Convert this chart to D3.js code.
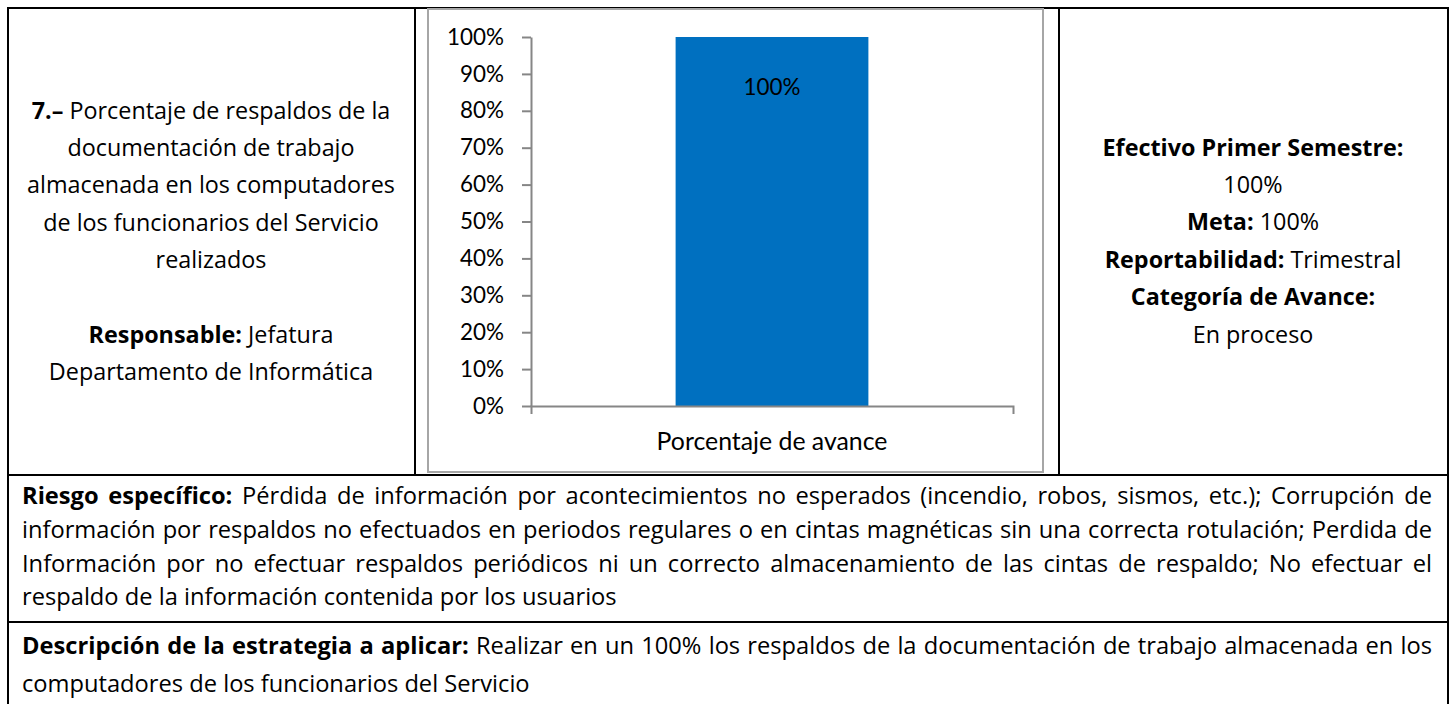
<!DOCTYPE html>
<html>
<head>
<meta charset="utf-8">
<script src="https://cdn.jsdelivr.net/npm/d3@7"></script>
<style>
    body { margin: 0; background: #fff; }
    svg { display: block; }
</style>
</head>
<body>
<div id="chart"></div>
<script>
// Chart data
const CATEGORIES = ["Porcentaje de avance"];
const VALUES = [1.0];
const Y_TICKS = [0, 0.1, 0.2, 0.3, 0.4, 0.5, 0.6, 0.7, 0.8, 0.9, 1.0];

// Cell texts, each line is a list of [text, bold]
const LEFT_LINES = [
    [["7.–", true], [" Porcentaje de respaldos de la", false]],
    [["documentación de trabajo", false]],
    [["almacenada en los computadores", false]],
    [["de los funcionarios del Servicio", false]],
    [["realizados", false]],
    null,
    [["Responsable:", true], [" Jefatura", false]],
    [["Departamento de Informática", false]]
];
const RIGHT_LINES = [
    [["Efectivo Primer Semestre:", true]],
    [["100%", false]],
    [["Meta:", true], [" 100%", false]],
    [["Reportabilidad:", true], [" Trimestral", false]],
    [["Categoría de Avance:", true]],
    [["En proceso", false]]
];
const RISK_LINES = [
    [["Riesgo específico:", true], [" Pérdida de información por acontecimientos no esperados (incendio, robos, sismos, etc.); Corrupción de", false]],
    [["información por respaldos no efectuados en periodos regulares o en cintas magnéticas sin una correcta rotulación; Perdida de", false]],
    [["Información por no efectuar respaldos periódicos ni un correcto almacenamiento de las cintas de respaldo; No efectuar el", false]],
    [["respaldo de la información contenida por los usuarios", false]]
];
const STRATEGY_LINES = [
    [["Descripción de la estrategia a aplicar:", true], [" Realizar en un 100% los respaldos de la documentación de trabajo almacenada en los", false]],
    [["computadores de los funcionarios del Servicio", false]]
];

const width = 1455;
const height = 704;
const TABLE_FONT = '"Open Sans", Lato, sans-serif';
const CHART_FONT = 'Lato, "Open Sans", sans-serif';

let svg = d3.select("#chart")
    .append("svg")
    .attr("width", width)
    .attr("height", height);

// hidden text used for measuring
const probe = svg.append("text").attr("visibility", "hidden");

function measure(text, bold, size, family) {
    probe.attr("font-size", size)
        .attr("font-weight", bold ? 700 : 400)
        .attr("font-family", family)
        .text(text);
    return probe.node().getComputedTextLength();
}

// font size so that a sample text gets a given width
function fitSize(text, bold, target, family) {
    return 20 * target / measure(text, bold, 20, family);
}

const topSize = fitSize("almacenada en los computadores", false, 368, TABLE_FONT);
const bottomSize = fitSize("respaldo de la información contenida por los usuarios", false, 595, TABLE_FONT);
const labelSize = fitSize("Porcentaje de avance", false, 231, CHART_FONT);
const tickSize = fitSize("100%", false, 57, CHART_FONT);

/**
 * Draw one line of words, centered, left aligned or justified
 */
function drawLine(g, segs, y, size, opts) {
    let words = [];
    segs.forEach(([text, bold]) => {
        text.split(" ").filter(w => w.length).forEach(w => {
            words.push({ w, bold, width: measure(w, bold, size, TABLE_FONT) });
        });
    });
    const sum = d3.sum(words, d => d.width);
    const space = measure("a a", false, size, TABLE_FONT) - measure("aa", false, size, TABLE_FONT);
    let gap = space;
    if (opts.align === "justify" && words.length > 1) {
        gap = (opts.x1 - opts.x0 - sum) / (words.length - 1);
    }
    const total = sum + gap * (words.length - 1);
    let x = opts.align === "center" ? opts.cx - total / 2 : opts.x0;

    words.forEach(d => {
        g.append("text")
            .attr("x", x)
            .attr("y", y)
            .attr("font-family", TABLE_FONT)
            .attr("font-size", size)
            .attr("font-weight", d.bold ? 700 : 400)
            .attr("fill", "#000")
            .text(d.w);
        x += d.width + gap;
    });
}

// Table borders
const grid = svg.append("g")
    .attr("stroke", "#000")
    .attr("stroke-width", 2)
    .attr("fill", "none");

grid.append("rect").attr("x", 8).attr("y", 8).attr("width", 1440).attr("height", 720);
grid.append("line").attr("x1", 415).attr("x2", 415).attr("y1", 8).attr("y2", 475);
grid.append("line").attr("x1", 1059).attr("x2", 1059).attr("y1", 8).attr("y2", 475);
grid.append("line").attr("x1", 8).attr("x2", 1448).attr("y1", 475).attr("y2", 475);
grid.append("line").attr("x1", 8).attr("x2", 1448).attr("y1", 622).attr("y2", 622);

// Cell texts
const topStep = 37.4;
const bottomStep = 33.8;
const textGroup = svg.append("g");

LEFT_LINES.forEach((segs, i) => {
    if (segs) drawLine(textGroup, segs, 118.5 + i * topStep, topSize, { align: "center", cx: 211 });
});
RIGHT_LINES.forEach((segs, i) => {
    drawLine(textGroup, segs, 155.5 + i * topStep, topSize, { align: "center", cx: 1253 });
});
RISK_LINES.forEach((segs, i) => {
    const last = i === RISK_LINES.length - 1;
    drawLine(textGroup, segs, 504 + i * bottomStep, bottomSize, { align: last ? "left" : "justify", x0: 22, x1: 1432 });
});
STRATEGY_LINES.forEach((segs, i) => {
    const last = i === STRATEGY_LINES.length - 1;
    drawLine(textGroup, segs, 654 + i * 37.5, bottomSize, { align: last ? "left" : "justify", x0: 22, x1: 1432 });
});

// Chart frame
svg.append("rect")
    .attr("x", 428)
    .attr("y", 9)
    .attr("width", 615)
    .attr("height", 463)
    .attr("fill", "#fff")
    .attr("stroke", "#a6a6a6")
    .attr("stroke-width", 2);

const xScale = d3.scaleBand()
    .domain(CATEGORIES)
    .range([531, 1013])
    .paddingInner(0.6)
    .paddingOuter(0.3);

const yScale = d3.scaleLinear()
    .domain([0, 1])
    .range([406, 37]);

const chart = svg.append("g")
    .attr("font-family", CHART_FONT);

// Bars
chart.selectAll(".bar")
    .data(VALUES)
  .enter().append("rect")
    .attr("class", "bar")
    .attr("x", (d, i) => xScale(CATEGORIES[i]))
    .attr("y", d => yScale(d))
    .attr("width", xScale.bandwidth())
    .attr("height", d => yScale(0) - yScale(d))
    .attr("fill", "#0070c0");

// y axis
let yAxis = chart.append("g")
    .attr("transform", "translate(531, 0)")
    .call(d3.axisLeft(yScale)
        .tickValues(Y_TICKS)
        .tickFormat(d3.format(".0%"))
        .tickSize(9)
        .tickSizeOuter(0)
        .tickPadding(18));
yAxis.attr("font-size", tickSize);

// x axis
let xAxis = chart.append("g")
    .attr("transform", "translate(0, 406)")
    .call(d3.axisBottom(xScale)
        .tickSize(0)
        .tickSizeOuter(8)
        .tickPadding(26));
xAxis.attr("font-size", labelSize);

[yAxis, xAxis].forEach(ax => {
    ax.attr("font-family", CHART_FONT);
    ax.selectAll("path, line").attr("stroke", "#868686").attr("stroke-width", 2);
    ax.selectAll("text").attr("fill", "#000");
});

// Data labels
chart.selectAll(".label")
    .data(VALUES)
  .enter().append("text")
    .attr("class", "label")
    .attr("x", (d, i) => xScale(CATEGORIES[i]) + xScale.bandwidth() / 2)
    .attr("y", d => yScale(d) + 58)
    .attr("text-anchor", "middle")
    .attr("font-size", tickSize)
    .attr("fill", "#000")
    .text(d => d3.format(".0%")(d));
</script>
</body>
</html>
